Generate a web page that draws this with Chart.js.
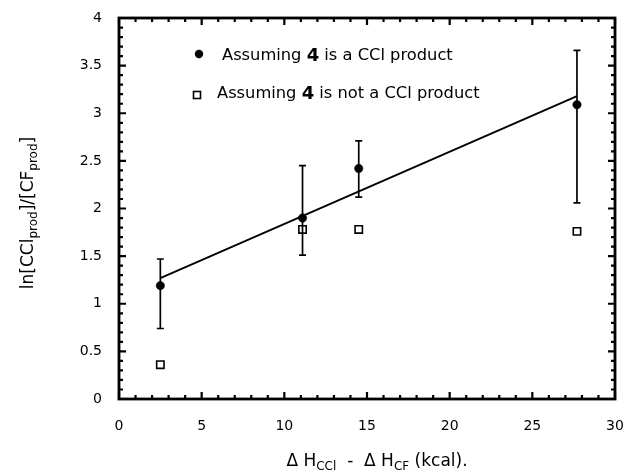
<!DOCTYPE html>
<html>
<head>
<meta charset="utf-8">
<script src="https://cdn.jsdelivr.net/npm/chart.js@4/dist/chart.umd.min.js"></script>
<style>
html,body{margin:0;padding:0;background:#fff;}
#wrap{width:627px;height:474px;position:relative;}
</style>
</head>
<body>
<div id="wrap"><canvas id="c" width="627" height="474"></canvas></div>
<script>
// ---- data ----
const xValues = [2.5, 11.1, 14.5, 27.7];
const cclProductY = [1.19, 1.90, 2.42, 3.09];
const errLow = [0.74, 1.51, 2.12, 2.06];
const errHigh = [1.47, 2.45, 2.71, 3.66];
const notCclProductY = [0.36, 1.78, 1.78, 1.76];
const fitX = [2.5, 27.7];
const fitY = [1.27, 3.18];
const xTickRange = [0, 30, 5, 1];   // min, max, major, minor
const yTickRange = [0, 4, 0.5, 0.1];
const legendLabels = [["Assuming ", "4", " is a CCl product"], ["Assuming ", "4", " is not a CCl product"]];

const FONT = '"DejaVu Sans", sans-serif';

const toPts = (xs, ys) => xs.map((x, i) => ({x: x, y: ys[i]}));

const errorBars = {
  id: 'errorBars',
  afterDatasetsDraw(chart) {
    const {ctx, scales: {x, y}} = chart;
    ctx.save();
    ctx.strokeStyle = '#000';
    ctx.lineWidth = 1.7;
    xValues.forEach((xv, i) => {
      const px = x.getPixelForValue(xv);
      const lo = y.getPixelForValue(errLow[i]);
      const hi = y.getPixelForValue(errHigh[i]);
      ctx.beginPath();
      ctx.moveTo(px, lo); ctx.lineTo(px, hi);
      ctx.moveTo(px - 3.5, lo); ctx.lineTo(px + 3.5, lo);
      ctx.moveTo(px - 3.5, hi); ctx.lineTo(px + 3.5, hi);
      ctx.stroke();
    });
    ctx.restore();
  }
};

const frameTicks = {
  id: 'frameTicks',
  afterDraw(chart) {
    const {ctx, chartArea: a, scales: {x, y}} = chart;
    ctx.save();
    ctx.strokeStyle = '#000';
    ctx.lineCap = 'butt';
    ctx.lineWidth = 2.2;
    const near = (v, s) => Math.abs(v / s - Math.round(v / s)) < 1e-6;
    for (let v = xTickRange[0]; v <= xTickRange[1] + 1e-9; v += xTickRange[3]) {
      const px = x.getPixelForValue(v);
      const len = near(v, xTickRange[2]) ? 7 : 4;
      ctx.beginPath();
      ctx.moveTo(px, a.bottom); ctx.lineTo(px, a.bottom - len);
      ctx.moveTo(px, a.top); ctx.lineTo(px, a.top + len);
      ctx.stroke();
    }
    for (let v = yTickRange[0]; v <= yTickRange[1] + 1e-9; v += yTickRange[3]) {
      const py = y.getPixelForValue(v);
      const len = near(v, yTickRange[2]) ? 7 : 4;
      ctx.beginPath();
      ctx.moveTo(a.left, py); ctx.lineTo(a.left + len, py);
      ctx.moveTo(a.right, py); ctx.lineTo(a.right - len, py);
      ctx.stroke();
    }
    ctx.lineWidth = 2.8;
    ctx.strokeRect(a.left, a.top, a.right - a.left, a.bottom - a.top);

    // legend
    ctx.fillStyle = '#000';
    ctx.textBaseline = 'middle';
    const drawLabel = (parts, lx, ly) => {
      let cx = lx;
      parts.forEach((p, i) => {
        ctx.font = (i === 1 ? 'bold 18px ' : '16.3px ') + FONT;
        ctx.fillText(p, cx, ly);
        cx += ctx.measureText(p).width;
      });
    };
    ctx.beginPath();
    ctx.arc(199, 54, 4.2, 0, Math.PI * 2);
    ctx.fill();
    drawLabel(legendLabels[0], 222, 56);
    ctx.lineWidth = 1.6;
    ctx.strokeRect(193.5, 91.5, 7, 7);
    drawLabel(legendLabels[1], 217, 94);

    // axis titles
    const MAIN = 17, SUB = 12;
    const drawSub = (parts, sx, sy) => {
      let cx = sx;
      parts.forEach(([t, sub]) => {
        ctx.font = (sub ? SUB : MAIN) + 'px ' + FONT;
        ctx.fillText(t, cx, sy + (sub ? 5 : 0));
        cx += ctx.measureText(t).width;
      });
      return cx - sx;
    };
    const measure = (parts) => parts.reduce((w, [t, sub]) => { ctx.font = (sub ? SUB : MAIN) + 'px ' + FONT; return w + ctx.measureText(t).width; }, 0);
    const xt = [["\u0394 H", false], ["CCl", true], ["  -  \u0394 H", false], ["CF", true], [" (kcal).", false]];
    const xw = measure(xt);
    drawSub(xt, 377 - xw / 2, 462);
    const yt = [["ln[CCl", false], ["prod", true], ["]/[CF", false], ["prod", true], ["]", false]];
    const yw = measure(yt);
    ctx.save();
    ctx.translate(29, 213);
    ctx.rotate(-Math.PI / 2);
    drawSub(yt, -yw / 2, 0);
    ctx.restore();
    ctx.restore();
  }
};

new Chart(document.getElementById('c'), {
  type: 'scatter',
  data: {
    datasets: [
      {
        label: 'fit',
        data: toPts(fitX, fitY),
        showLine: true,
        borderColor: '#000',
        borderWidth: 1.9,
        pointRadius: 0,
        fill: false
      },
      {
        label: legendLabels[0].join(''),
        data: toPts(xValues, cclProductY),
        pointStyle: 'circle',
        pointRadius: 4.2,
        backgroundColor: '#000',
        borderColor: '#000',
        borderWidth: 0.5
      },
      {
        label: legendLabels[1].join(''),
        data: toPts(xValues, notCclProductY),
        pointStyle: 'rect',
        pointRadius: 5.2,
        backgroundColor: '#fff',
        borderColor: '#000',
        borderWidth: 1.6
      }
    ]
  },
  options: {
    responsive: false,
    animation: false,
    layout: {padding: {left: 0, right: 12, top: 18, bottom: 0}},
    plugins: {legend: {display: false}, tooltip: {enabled: false}},
    scales: {
      x: {
        type: 'linear',
        min: xTickRange[0], max: xTickRange[1],
        grid: {display: false, drawTicks: false},
        border: {display: false},
        ticks: {stepSize: xTickRange[2], padding: 19, color: '#000', font: {family: FONT, size: 14}, callback: v => String(v)},
        afterFit(s) { s.height = 75; s.paddingLeft = 0; s.paddingRight = 0; }
      },
      y: {
        type: 'linear',
        min: yTickRange[0], max: yTickRange[1],
        grid: {display: false, drawTicks: false},
        border: {display: false},
        ticks: {stepSize: yTickRange[2], padding: 17, color: '#000', font: {family: FONT, size: 14}, callback: v => String(v)},
        afterFit(s) { s.width = 119; s.paddingTop = 0; s.paddingBottom = 0; }
      }
    }
  },
  plugins: [errorBars, frameTicks]
});
</script>
</body>
</html>
